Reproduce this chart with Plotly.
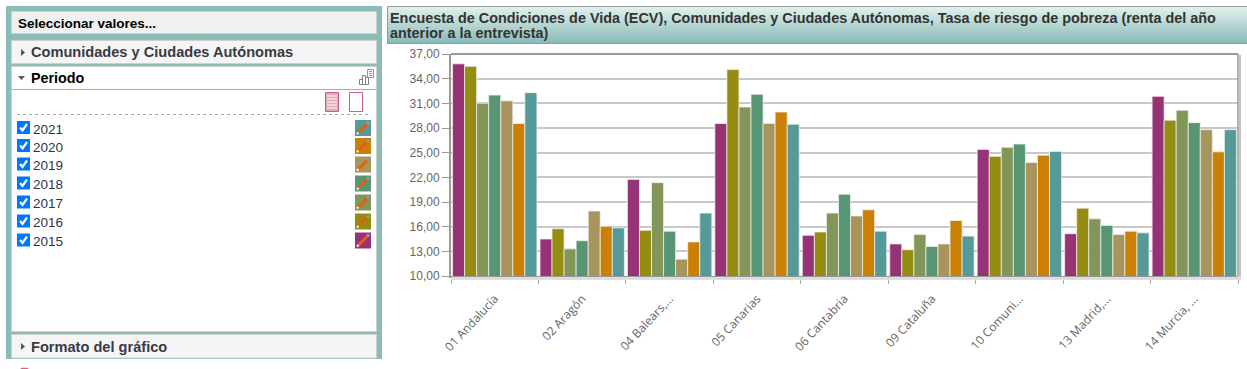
import plotly.graph_objects as go

W, H = 1247, 369
L, R, T, B = 451, 1238, 54, 276

categories = ["01 Andalucía", "02 Aragón", "04 Balears,...", "05 Canarias", "06 Cantabria",
              "09 Cataluña", "10 Comuni...", "13 Madrid,...", "14 Murcia, ..."]
y2015 = [35.8, 14.5, 21.75, 28.55, 14.95, 13.9, 25.4, 15.15, 31.85]
y2016 = [35.5, 15.75, 15.55, 35.1, 15.35, 13.2, 24.55, 18.25, 28.95]
y2017 = [31.0, 13.3, 21.35, 30.55, 17.65, 15.05, 25.65, 16.95, 30.15]
y2018 = [32.0, 14.3, 15.45, 32.1, 19.95, 13.6, 26.05, 16.15, 28.65]
y2019 = [31.3, 17.9, 12.05, 28.55, 17.3, 13.9, 23.8, 15.05, 27.8]
y2020 = [28.55, 16.05, 14.15, 29.95, 18.05, 16.75, 24.7, 15.45, 25.1]
y2021 = [32.3, 15.85, 17.65, 28.45, 15.45, 14.85, 25.15, 15.25, 27.8]
years = ["2015", "2016", "2017", "2018", "2019", "2020", "2021"]
colors = ["#963376", "#958C12", "#83965A", "#589573", "#A8955E", "#CA8005", "#559A98"]
series = [y2015, y2016, y2017, y2018, y2019, y2020, y2021]
title_lines = ["Encuesta de Condiciones de Vida (ECV), Comunidades y Ciudades Autónomas, Tasa de riesgo de pobreza (renta del año",
               "anterior a la entrevista)"]


def px(x):
    return (x - L) / (R - L)


def py(y):
    return (B - y) / (B - T)


shapes, annots = [], []


def rect(x0, y0, x1, y1, fill=None, line=None, lw=1, dash=None):
    shapes.append(dict(type="rect", xref="paper", yref="paper", x0=px(x0), x1=px(x1), y0=py(y0), y1=py(y1),
                       fillcolor=fill or "rgba(0,0,0,0)",
                       line=dict(color=line or "rgba(0,0,0,0)", width=lw if line else 0, dash=dash or "solid")))


def seg(x0, y0, x1, y1, color, lw=1, dash=None):
    shapes.append(dict(type="line", xref="paper", yref="paper", x0=px(x0), x1=px(x1), y0=py(y0), y1=py(y1),
                       line=dict(color=color, width=lw, dash=dash or "solid")))


def poly(points, fill):
    d = "M " + " L ".join(f"{px(a):.5f},{py(b):.5f}" for a, b in points) + " Z"
    shapes.append(dict(type="path", xref="paper", yref="paper", path=d, fillcolor=fill, line=dict(width=0)))


def text(x, y, s, size=14, color="#333", bold=False, family="Liberation Sans"):
    annots.append(dict(xref="paper", yref="paper", x=px(x), y=py(y), text=f"<b>{s}</b>" if bold else s,
                       showarrow=False, xanchor="left", yanchor="middle", align="left", xshift=0, yshift=0,
                       font=dict(size=size, color=color, family=family), borderpad=0, borderwidth=0))


# side panel
rect(6, 6, 382, 359, fill="#8ABDB8")
rect(11.5, 11.5, 376.5, 33.5, fill="#F0F0F0", line="#CFCFCF")
rect(11.5, 40.5, 376.5, 63.5, fill="#F5F5F5", line="#CFCFCF")
rect(11.5, 66.5, 376.5, 331.5, fill="#FFFFFF", line="#CFCFCF")
seg(11.5, 89.5, 376.5, 89.5, "#AAAAAA", 1)
rect(11.5, 334.5, 376.5, 358, fill="#F5F5F5", line="#CFCFCF")
seg(17, 114.5, 371, 114.5, "#AAAAAA", 1, "dot")
text(18, 23.5, "Seleccionar valores...", 13.5, "#000000", True)
text(31, 52.5, "Comunidades y Ciudades Autónomas", 14.6, "#3A3A44", True)
text(31, 78, "Periodo", 14.3, "#000000", True)
text(31, 346.5, "Formato del gráfico", 14.6, "#3A3A44", True)
poly([(21, 49), (21, 56), (25, 52.5)], "#555555")
poly([(21, 343), (21, 350), (25, 346.5)], "#555555")
poly([(18, 76), (25, 76), (21.5, 80)], "#555555")

# small header icons
rect(359.5, 79.5, 362.5, 84.5, line="#808080")
rect(362.5, 75.5, 365.5, 84.5, line="#808080")
rect(365.5, 77.5, 368.5, 84.5, line="#808080")
rect(367.5, 69.5, 373.5, 77.5, fill="#FFFFFF", line="#D9843A")
for yy in (71.5, 73.5, 75.5):
    seg(369, yy, 372.5, yy, "#D9843A", 1, "dot")
rect(325.5, 92.5, 338.5, 111.5, fill="#E2A9B6", line="#C8607A", lw=1)
for yy in range(96, 110, 3):
    seg(327, yy, 337, yy, "#FFFFFF", 1)
rect(349.5, 92.5, 362.5, 111.5, fill="#FFFFFF", line="#C8607A", lw=1)

# checkbox list (doubles as the legend of the chart)
rows = [127.5, 145.5, 164, 183, 202, 221, 240]
for row, yr, col in zip(rows, years[::-1], colors[::-1]):
    rect(17, row - 6.5, 30, row + 6.5, fill="#0075FF")
    shapes.append(dict(type="path", xref="paper", yref="paper",
                       path=f"M {px(20)},{py(row)} L {px(22.5)},{py(row+3)} L {px(27)},{py(row-3.5)}",
                       fillcolor="rgba(0,0,0,0)", line=dict(color="#FFFFFF", width=2.2)))
    text(33, row + 1.7, yr, 13.5, "#333344")
    rect(355, row - 7.5, 371, row + 8.5, fill=col)
    seg(358, row + 5.5, 367, row - 3.5, "#E0600F", 3)
    seg(367, row - 3.5, 369, row - 5.5, "#999999", 3)
    seg(357, row + 6.5, 358.5, row + 5, "#F4F4F4", 2)

# title banner (stacked strips give the vertical gradient)
top_c, bot_c = (224, 240, 238), (136, 186, 182)
n = 37
for i in range(n):
    f = i / (n - 1)
    c = tuple(round(a + (b - a) * f) for a, b in zip(top_c, bot_c))
    rect(388, 7 + i, W, 8 + i, fill=f"rgb{c}")
seg(387.5, 6.5, W, 6.5, "#999999", 1)
seg(387.5, 43.5, W, 43.5, "#999999", 1)
seg(387.5, 6.5, 387.5, 43.5, "#999999", 1)
text(390, 17.5, title_lines[0], 14.4, "#333333", True)
text(390, 33.5, title_lines[1], 14.4, "#333333", True)

# plot frame shadow and border
rect(R + 1, T + 1, R + 3, B + 2, fill="#C4C4C4")
rect(L, B + 1, R + 3, B + 4, fill="#DDDDDD")
seg(L, T, R, T, "#999999", 2)
seg(R, T, R, B, "#999999", 1.5)

# faint pink mark at bottom edge
poly([(20, 369), (22, 367.7), (27, 367.7), (29, 369)], "#D8607F")

fig = go.Figure()
for name, vals, col in zip(years, series, colors):
    fig.add_bar(name=name, x=categories, y=vals, marker=dict(color=col, line=dict(color="rgba(240,240,235,0.75)", width=1)))

fig.update_layout(
    width=W, height=H, margin=dict(l=L, r=W - R, t=T, b=H - B, autoexpand=False),
    barmode="group", bargap=0.035, bargroupgap=0.0, showlegend=False,
    paper_bgcolor="#FFFFFF", plot_bgcolor="#FFFFFF", separators=",.",
    shapes=shapes, annotations=annots,
    xaxis=dict(type="category", range=[-0.5, 8.5], tickson="boundaries", ticks="outside", ticklen=6, tickwidth=1,
               tickcolor="#A8A8A8", tickangle=-47, showgrid=False, showline=True, linecolor="#999999", linewidth=2,
               tickfont=dict(family="Open Sans", size=12, color="#666666"), automargin=False, ticklabelstandoff=9),
    yaxis=dict(range=[10, 37], tick0=10, dtick=3, tickformat=".2f", ticks="outside", ticklen=7, tickwidth=1,
               tickcolor="#999999", gridcolor="#C8C8C8", gridwidth=1.5, showline=True, linecolor="#999999", linewidth=2,
               tickfont=dict(family="Liberation Sans", size=12, color="#666666"), automargin=False, zeroline=False),
)

fig.write_html("out.html", config=dict(displayModeBar=False, responsive=False),
               post_script="document.body.style.margin='0';document.body.style.overflow='hidden';")
